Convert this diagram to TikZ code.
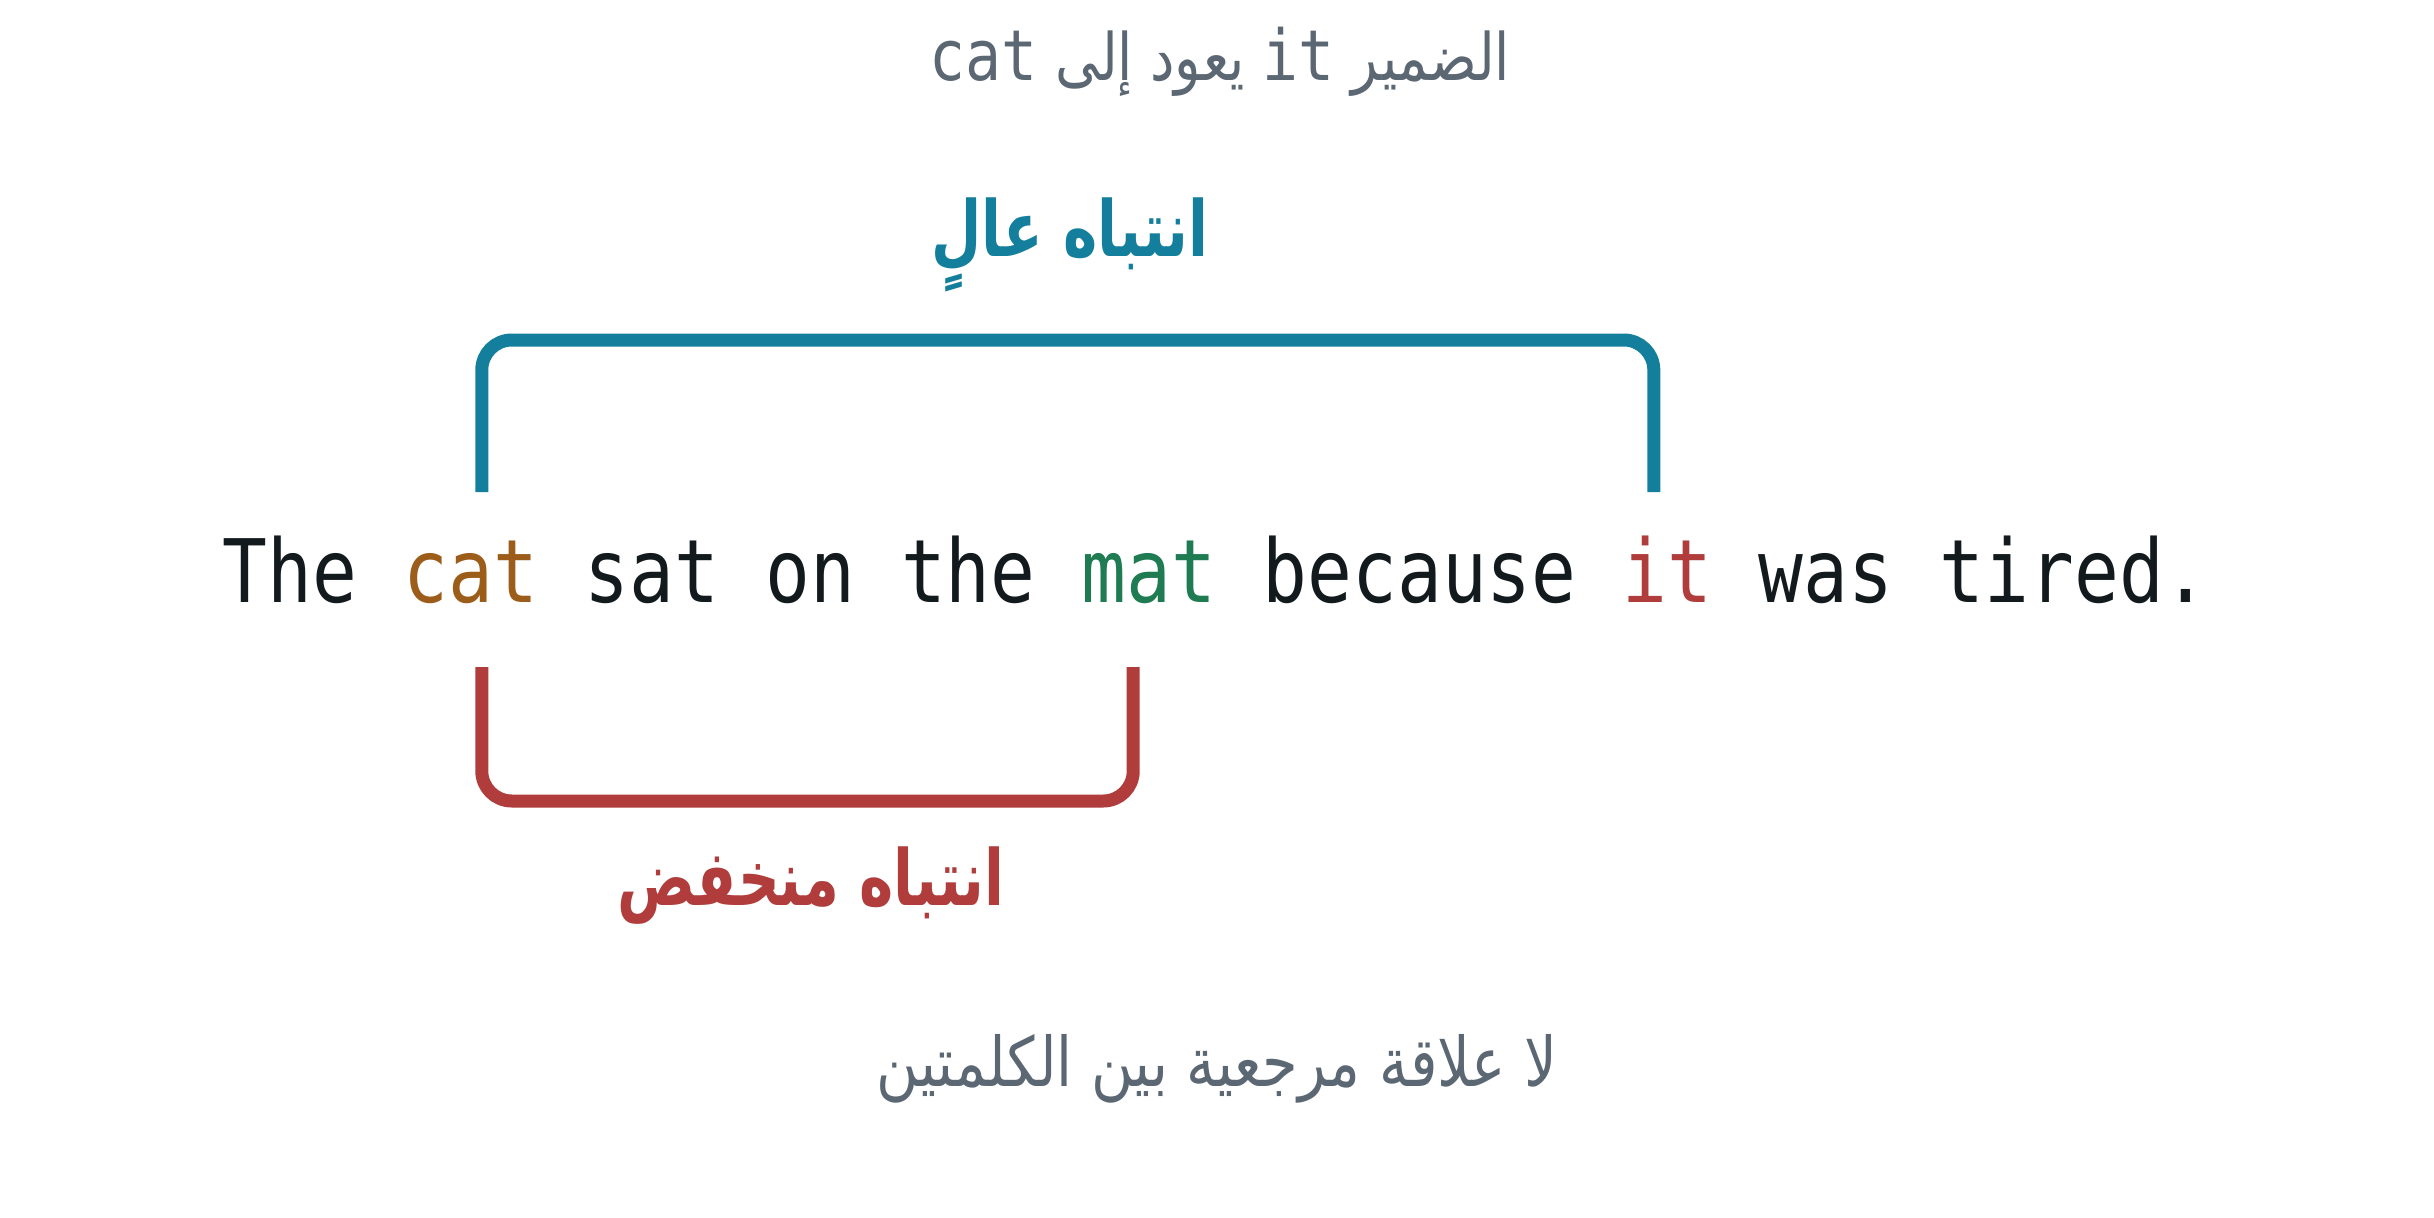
\documentclass[tikz,border=0pt]{standalone}
\usepackage{fontspec}
\usepackage{xcolor}
\usetikzlibrary{positioning}
\setmonofont[FakeStretch=0.85]{DejaVu Sans Mono}
\newfontfamily\arabicfont[Script=Arabic, FakeStretch=0.84]{DejaVu Sans}
\newfontfamily\tagfont[Script=Arabic, FakeStretch=0.75]{DejaVu Sans}
\TeXXeTstate=1

\definecolor{ink}{HTML}{131A1E}
\definecolor{note}{HTML}{5B6773}
\definecolor{hiblue}{HTML}{147F9C}
\definecolor{lored}{HTML}{B03C3C}
\definecolor{catcol}{HTML}{9C5C1A}
\definecolor{matcol}{HTML}{1E7B52}

\begin{document}
\begin{tikzpicture}[
    word/.style ={
        inner sep=0pt,
        text=ink,
        font=\ttfamily\fontsize{24.93}{30}\selectfont
    },
    caption/.style ={
        inner sep=0pt,
        anchor=base,
        text=note,
        font=\arabicfont\fontsize{19.5}{24}\selectfont
    },
    tag/.style ={
        inner sep=0pt,
        anchor=base,
        font=\tagfont\bfseries\fontsize{22}{26}\selectfont
    },
    bracket/.style ={
        line width=0.13cm,
        rounded corners=0.3cm
    }
    ]

    \fill[white] (0,0) rectangle (24.34,12.17);
    \useasboundingbox (0,0) rectangle (24.34,12.17);

    % the sentence, word by word
    \node[word, anchor=base west] (the) at (2.22,6.15) {The};
    \foreach \prev/ \name/ \txt/ \col in {the/cat/cat/catcol, cat/sat/sat/ink, sat/on/on/ink, on/the2/the/ink, the2/mat/mat/matcol, mat/because/because/ink, because/it/it/lored, it/was/was/ink, was/tired/tired./ink}
        \node[word, text=\col, base right=0.449cm of \prev] (\name) {\txt};

    % notes
    \node[caption, font=\arabicfont\fontsize{18.6}{24}\selectfont] (refnote) at (12.20,11.36) {\beginR الضمير {\ttfamily\fontsize{20}{24}\selectfont\beginL it\endL} يعود إلى {\ttfamily\fontsize{20}{24}\selectfont\beginL cat\endL}\endR};
    \node[caption] (nonote) at (12.17,1.31) {\beginR لا علاقة مرجعية بين الكلمتين\endR};

    % attention brackets
    \draw[bracket, draw=hiblue] ([xshift=0.11cm, yshift=1.10cm]cat.base) -- ++(0,1.52) -| ([xshift=-0.14cm, yshift=1.10cm]it.base);
    \draw[bracket, draw=lored] ([xshift=0.11cm, yshift=-0.65cm]cat.base) -- ++(0,-1.34) -| ([xshift=-0.16cm, yshift=-0.65cm]mat.base);

    \node[tag, text=hiblue] (high) at (10.70,9.60) {\beginR انتباه عالٍ\endR};
    \node[tag, text=lored] (low) at (8.11,3.12) {\beginR انتباه منخفض\endR};
\end{tikzpicture}
\end{document}
